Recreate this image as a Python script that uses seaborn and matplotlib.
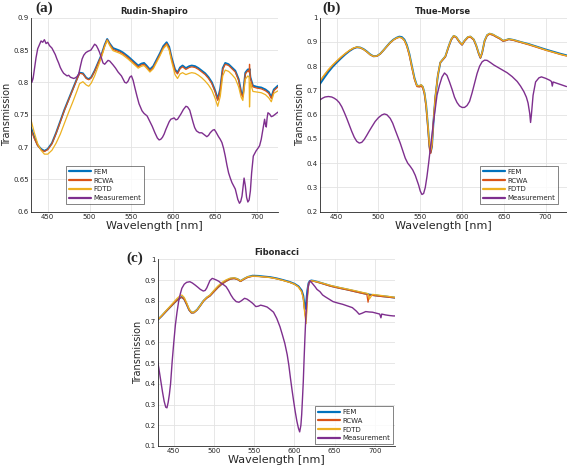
import numpy as np
import pandas as pd
import matplotlib
matplotlib.use("Agg")
import matplotlib.pyplot as plt
import seaborn as sns

# ---------------- data ----------------
series_names = ["FEM", "RCWA", "FDTD", "Measurement"]
series_colors = ["#0072BD", "#D95319", "#EDB120", "#7E2F8E"]

# (a) Rudin-Shapiro
wl_a_sim = [430, 434, 438, 442, 446, 450, 455, 460, 465, 470, 475, 480, 485, 488, 492, 496, 499, 502,
            506, 510, 514, 518, 521, 524, 528, 532, 536, 540, 546, 552, 558, 562, 565, 568, 572, 576,
            580, 584, 588, 592, 595, 598, 602, 605, 608, 611, 615, 619, 622, 626, 630, 634, 638, 642,
            646, 650, 653, 656, 659, 662, 666, 670, 674, 678, 681, 683, 686, 689, 690.5, 691, 692, 695,
            700, 705, 710, 714, 717, 720, 725]
fem_a = [0.730, 0.715, 0.703, 0.697, 0.694, 0.697, 0.706, 0.722, 0.740, 0.758, 0.774, 0.790, 0.806, 0.815,
         0.814, 0.807, 0.805, 0.808, 0.818, 0.830, 0.842, 0.858, 0.867, 0.860, 0.853, 0.851, 0.849, 0.846,
         0.840, 0.833, 0.826, 0.829, 0.830, 0.826, 0.820, 0.825, 0.835, 0.845, 0.856, 0.862, 0.855, 0.838,
         0.820, 0.815, 0.823, 0.826, 0.822, 0.825, 0.826, 0.825, 0.822, 0.818, 0.814, 0.808, 0.800, 0.787,
         0.774, 0.790, 0.822, 0.830, 0.828, 0.823, 0.818, 0.805, 0.785, 0.779, 0.815, 0.820, 0.818, 0.821,
         0.808, 0.795, 0.793, 0.792, 0.789, 0.785, 0.777, 0.789, 0.795]
rcwa_a = [0.727, 0.713, 0.702, 0.696, 0.693, 0.696, 0.705, 0.721, 0.739, 0.757, 0.773, 0.789, 0.805, 0.814,
          0.813, 0.806, 0.804, 0.807, 0.817, 0.829, 0.841, 0.857, 0.866, 0.859, 0.851, 0.849, 0.847, 0.844,
          0.838, 0.831, 0.824, 0.827, 0.828, 0.824, 0.818, 0.823, 0.833, 0.843, 0.854, 0.860, 0.853, 0.836,
          0.818, 0.813, 0.821, 0.824, 0.820, 0.823, 0.824, 0.823, 0.820, 0.816, 0.812, 0.806, 0.798, 0.785,
          0.772, 0.788, 0.820, 0.828, 0.826, 0.821, 0.816, 0.803, 0.783, 0.777, 0.813, 0.818, 0.816, 0.828,
          0.806, 0.793, 0.791, 0.790, 0.787, 0.783, 0.775, 0.787, 0.793]
fdtd_a = [0.742, 0.722, 0.705, 0.695, 0.689, 0.689, 0.695, 0.706, 0.720, 0.737, 0.754, 0.770, 0.787, 0.798,
          0.801, 0.796, 0.794, 0.799, 0.810, 0.824, 0.838, 0.855, 0.865, 0.857, 0.849, 0.847, 0.845, 0.842,
          0.836, 0.829, 0.822, 0.825, 0.826, 0.822, 0.816, 0.821, 0.831, 0.841, 0.852, 0.858, 0.850, 0.832,
          0.812, 0.806, 0.813, 0.815, 0.812, 0.814, 0.815, 0.814, 0.811, 0.807, 0.802, 0.796, 0.788, 0.775,
          0.763, 0.778, 0.810, 0.819, 0.817, 0.812, 0.806, 0.793, 0.777, 0.772, 0.805, 0.810, 0.808, 0.762,
          0.800, 0.786, 0.785, 0.784, 0.781, 0.776, 0.770, 0.783, 0.787]
wl_a_meas = [430, 431, 432.5, 434, 436, 438, 440, 442, 444, 446, 448, 450, 452, 455, 457, 459, 461, 463,
             465, 467, 469, 471, 473, 475, 477, 479, 481, 483, 485, 487, 489, 491, 493, 495.5, 498, 501.6,
             504, 506, 508, 510, 512, 514, 516, 518, 520, 522, 524, 526, 528, 531, 534, 538, 542, 544,
             546, 548, 550, 552, 554, 556.5, 559, 562.6, 565, 568.7, 571, 574.8, 578, 580.9, 583, 585,
             587, 589, 591, 593, 595, 597, 601, 603, 605, 607, 609, 612, 615, 617, 619.6, 621.5, 623.6,
             625.5, 627.6, 631, 634, 637, 640, 642, 644, 647, 649, 651, 654, 656, 658, 660, 662, 664,
             666, 668, 670, 672, 674, 675.5, 677, 679, 680.5, 682, 683.5, 684.5, 686, 687.5, 689, 690.5,
             692, 693.5, 695.5, 698.8, 701, 703, 705, 707, 709, 710, 711, 712, 713, 715, 717, 719, 721,
             723, 725]
meas_a = [0.815, 0.800, 0.806, 0.820, 0.838, 0.852, 0.858, 0.864, 0.862, 0.866, 0.860, 0.862, 0.857, 0.853,
          0.848, 0.843, 0.836, 0.830, 0.823, 0.818, 0.814, 0.812, 0.810, 0.811, 0.808, 0.807, 0.806, 0.807,
          0.809, 0.813, 0.825, 0.836, 0.842, 0.846, 0.848, 0.850, 0.855, 0.859, 0.857, 0.852, 0.846, 0.838,
          0.830, 0.828, 0.831, 0.834, 0.833, 0.830, 0.827, 0.822, 0.816, 0.810, 0.800, 0.799, 0.802, 0.808,
          0.810, 0.803, 0.792, 0.779, 0.767, 0.756, 0.752, 0.748, 0.742, 0.732, 0.722, 0.714, 0.711, 0.712,
          0.715, 0.720, 0.727, 0.733, 0.739, 0.743, 0.745, 0.742, 0.743, 0.747, 0.751, 0.758, 0.763, 0.762,
          0.757, 0.748, 0.738, 0.730, 0.725, 0.722, 0.722, 0.719, 0.716, 0.718, 0.722, 0.726, 0.727, 0.723,
          0.716, 0.712, 0.707, 0.698, 0.686, 0.672, 0.660, 0.652, 0.645, 0.640, 0.635, 0.627, 0.619, 0.613,
          0.616, 0.624, 0.640, 0.652, 0.640, 0.622, 0.615, 0.618, 0.632, 0.660, 0.686, 0.694, 0.698, 0.702,
          0.712, 0.728, 0.743, 0.735, 0.731, 0.745, 0.753, 0.751, 0.747, 0.748, 0.750, 0.752, 0.754]

# (b) Thue-Morse
wl_b_sim = [430, 435, 440, 445, 450, 455, 460, 465, 470, 474, 478, 482, 486, 490, 494, 498, 502, 506, 510,
            514, 518, 522, 525, 528, 531, 534, 537, 540, 543, 546, 549, 551, 553, 555, 557, 559, 561, 562.5,
            564, 566, 568, 571, 574, 577, 580, 584, 587, 590, 593, 597, 600, 603, 607, 610, 614, 617, 620,
            622, 624, 627, 630, 633, 637, 641, 645, 649, 652, 656, 662, 670, 680, 690, 700, 710, 718, 725]
fem_b = [0.727, 0.752, 0.776, 0.797, 0.815, 0.832, 0.848, 0.862, 0.873, 0.878, 0.877, 0.871, 0.861, 0.849,
         0.841, 0.842, 0.851, 0.866, 0.882, 0.898, 0.910, 0.918, 0.922, 0.920, 0.910, 0.887, 0.850, 0.800,
         0.752, 0.720, 0.718, 0.722, 0.715, 0.690, 0.640, 0.560, 0.470, 0.445, 0.470, 0.580, 0.670, 0.760,
         0.815, 0.828, 0.840, 0.882, 0.910, 0.925, 0.920, 0.900, 0.889, 0.905, 0.920, 0.922, 0.910, 0.885,
         0.852, 0.835, 0.855, 0.905, 0.928, 0.934, 0.930, 0.922, 0.915, 0.905, 0.907, 0.912, 0.908, 0.900,
         0.891, 0.880, 0.869, 0.859, 0.851, 0.845]
rcwa_b = [0.738, 0.762, 0.784, 0.803, 0.820, 0.836, 0.851, 0.864, 0.874, 0.878, 0.876, 0.869, 0.859, 0.847,
          0.840, 0.841, 0.850, 0.865, 0.881, 0.896, 0.908, 0.916, 0.919, 0.916, 0.905, 0.880, 0.842, 0.792,
          0.745, 0.716, 0.714, 0.718, 0.710, 0.684, 0.630, 0.548, 0.458, 0.440, 0.470, 0.585, 0.675, 0.763,
          0.815, 0.826, 0.838, 0.880, 0.908, 0.923, 0.918, 0.898, 0.887, 0.903, 0.918, 0.920, 0.908, 0.883,
          0.850, 0.833, 0.853, 0.903, 0.926, 0.932, 0.928, 0.920, 0.913, 0.903, 0.905, 0.910, 0.906, 0.898,
          0.888, 0.877, 0.866, 0.856, 0.848, 0.842]
fdtd_b = [0.740, 0.764, 0.786, 0.805, 0.822, 0.838, 0.852, 0.865, 0.875, 0.879, 0.877, 0.870, 0.860, 0.848,
          0.841, 0.842, 0.851, 0.866, 0.882, 0.897, 0.909, 0.917, 0.920, 0.917, 0.907, 0.884, 0.848, 0.798,
          0.750, 0.720, 0.719, 0.724, 0.716, 0.692, 0.642, 0.565, 0.478, 0.455, 0.478, 0.585, 0.672, 0.762,
          0.816, 0.829, 0.841, 0.883, 0.911, 0.926, 0.921, 0.901, 0.890, 0.906, 0.921, 0.923, 0.911, 0.886,
          0.853, 0.837, 0.857, 0.906, 0.929, 0.935, 0.931, 0.923, 0.916, 0.906, 0.908, 0.912, 0.908, 0.900,
          0.890, 0.879, 0.867, 0.857, 0.849, 0.843]
wl_b_meas = [430, 433, 436, 440, 444, 447, 450, 453, 456, 459, 462, 465, 468, 471, 474, 477, 480, 483, 486,
             489, 492, 496, 500, 504, 507, 510, 514, 517, 520, 523, 526, 529, 532, 535, 538, 541, 544, 548,
             550, 552, 554, 556, 558, 560, 562, 564, 566, 568, 570, 573, 576, 579, 582, 585, 588, 591, 594,
             597, 600, 603, 606, 609, 612, 615, 618, 621, 624, 627, 630, 634, 638, 642, 648, 654, 660, 666,
             670, 674, 677, 679, 681, 682, 683, 685, 688, 692, 695, 700, 705, 707, 708, 709, 714, 720, 725]
meas_b = [0.661, 0.668, 0.673, 0.675, 0.673, 0.668, 0.661, 0.650, 0.633, 0.610, 0.585, 0.558, 0.531, 0.507,
          0.490, 0.483, 0.486, 0.498, 0.515, 0.533, 0.550, 0.572, 0.588, 0.599, 0.603, 0.600, 0.585, 0.565,
          0.537, 0.510, 0.483, 0.452, 0.421, 0.400, 0.387, 0.372, 0.350, 0.310, 0.285, 0.271, 0.275, 0.300,
          0.345, 0.400, 0.460, 0.517, 0.575, 0.626, 0.680, 0.722, 0.755, 0.772, 0.762, 0.735, 0.705, 0.672,
          0.650, 0.636, 0.630, 0.630, 0.638, 0.655, 0.690, 0.730, 0.770, 0.800, 0.818, 0.825, 0.824, 0.815,
          0.805, 0.797, 0.785, 0.773, 0.757, 0.737, 0.718, 0.695, 0.672, 0.648, 0.605, 0.568, 0.600, 0.680,
          0.735, 0.752, 0.756, 0.750, 0.742, 0.737, 0.718, 0.735, 0.729, 0.722, 0.716]

# (c) Fibonacci
wl_c_sim = [430, 435, 440, 445, 450, 454, 458, 460, 463, 466, 469, 472, 475, 479, 483, 487, 491, 495, 500,
            505, 510, 515, 520, 525, 529, 533, 537, 542, 548, 555, 562, 570, 578, 586, 594, 600, 605, 609,
            611, 613, 614.5, 616, 617.5, 619, 621, 624, 628, 635, 645, 655, 665, 675, 685, 690, 691.5, 693,
            697, 705, 715, 725]
fem_c = [0.708, 0.727, 0.748, 0.768, 0.788, 0.803, 0.815, 0.818, 0.808, 0.784, 0.757, 0.743, 0.744, 0.757,
         0.778, 0.800, 0.815, 0.825, 0.846, 0.866, 0.883, 0.896, 0.906, 0.909, 0.905, 0.895, 0.905, 0.915,
         0.921, 0.920, 0.917, 0.914, 0.908, 0.900, 0.891, 0.882, 0.870, 0.850, 0.825, 0.760, 0.790, 0.850,
         0.885, 0.895, 0.898, 0.896, 0.892, 0.884, 0.872, 0.863, 0.855, 0.846, 0.837, 0.833, 0.832, 0.830,
         0.828, 0.824, 0.820, 0.815]
rcwa_c = [0.707, 0.726, 0.747, 0.767, 0.787, 0.802, 0.814, 0.817, 0.806, 0.782, 0.755, 0.741, 0.742, 0.755,
          0.776, 0.798, 0.813, 0.823, 0.844, 0.864, 0.881, 0.894, 0.904, 0.907, 0.903, 0.893, 0.903, 0.913,
          0.918, 0.917, 0.915, 0.912, 0.906, 0.898, 0.889, 0.880, 0.867, 0.845, 0.815, 0.740, 0.710, 0.820,
          0.880, 0.893, 0.896, 0.894, 0.890, 0.882, 0.870, 0.861, 0.853, 0.844, 0.835, 0.831, 0.793, 0.828,
          0.826, 0.822, 0.818, 0.814]
fdtd_c = [0.709, 0.729, 0.751, 0.772, 0.794, 0.811, 0.825, 0.828, 0.816, 0.790, 0.761, 0.745, 0.745, 0.757,
          0.778, 0.801, 0.817, 0.828, 0.851, 0.872, 0.889, 0.901, 0.909, 0.911, 0.906, 0.896, 0.906, 0.916,
          0.919, 0.918, 0.915, 0.912, 0.906, 0.898, 0.889, 0.880, 0.866, 0.842, 0.810, 0.730, 0.690, 0.800,
          0.878, 0.892, 0.896, 0.895, 0.892, 0.885, 0.874, 0.865, 0.857, 0.849, 0.840, 0.836, 0.834, 0.808,
          0.831, 0.827, 0.822, 0.817]
wl_c_meas = [430, 432, 434, 436, 438, 440, 441.5, 443, 444.5, 446, 448, 450, 452, 454, 456, 458, 460, 463,
             466, 470, 473, 476.5, 480, 483, 486.7, 489, 491, 493, 495, 497.8, 500, 503, 506, 509, 512, 515,
             518, 521, 524, 527.6, 531, 534, 538, 541, 544, 548, 552, 555, 558, 562, 566, 570, 574, 578,
             582, 585, 588, 591, 593, 595, 597, 599, 601, 603, 605, 606.5, 608, 609, 610, 611, 612, 613,
             614, 615, 616.5, 618, 619.5, 622, 625.6, 628, 631.7, 635, 638, 643, 648, 654, 660, 666, 672,
             677, 680.5, 684, 688.6, 693, 697, 702, 706, 707.5, 708.5, 713, 718, 723, 725]
meas_c = [0.508, 0.460, 0.410, 0.360, 0.316, 0.287, 0.284, 0.310, 0.348, 0.400, 0.508, 0.600, 0.684, 0.745,
          0.796, 0.832, 0.860, 0.880, 0.889, 0.892, 0.886, 0.876, 0.865, 0.855, 0.847, 0.850, 0.862, 0.880,
          0.898, 0.908, 0.905, 0.900, 0.894, 0.884, 0.877, 0.868, 0.850, 0.828, 0.810, 0.796, 0.793, 0.800,
          0.812, 0.808, 0.800, 0.788, 0.772, 0.774, 0.779, 0.775, 0.770, 0.758, 0.745, 0.715, 0.675, 0.636,
          0.595, 0.540, 0.490, 0.428, 0.370, 0.316, 0.265, 0.220, 0.185, 0.168, 0.200, 0.252, 0.330, 0.412,
          0.520, 0.620, 0.710, 0.780, 0.850, 0.885, 0.895, 0.885, 0.868, 0.855, 0.844, 0.828, 0.820, 0.808,
          0.796, 0.789, 0.783, 0.775, 0.767, 0.750, 0.735, 0.740, 0.748, 0.746, 0.745, 0.740, 0.736, 0.718,
          0.736, 0.732, 0.729, 0.727, 0.727]

titles = ["Rudin-Shapiro", "Thue-Morse", "Fibonacci"]
panel_tags = ["(a)", "(b)", "(c)"]
yticks_a = [0.6, 0.65, 0.7, 0.75, 0.8, 0.85, 0.9]
ytick_labels_a = ["0.6", "0.65", "0.7", "0.75", "0.8", "0.85", "0.9"]
yticks_b = [0.2, 0.3, 0.4, 0.5, 0.6, 0.7, 0.8, 0.9, 1.0]
ytick_labels_b = ["0.2", "0.3", "0.4", "0.5", "0.6", "0.7", "0.8", "0.9", "1"]
yticks_c = [0.1, 0.2, 0.3, 0.4, 0.5, 0.6, 0.7, 0.8, 0.9, 1.0]
ytick_labels_c = ["0.1", "0.2", "0.3", "0.4", "0.5", "0.6", "0.7", "0.8", "0.9", "1"]
xticks = [450, 500, 550, 600, 650, 700]

# ---------------- style ----------------
sns.set_theme(style="whitegrid")
plt.rcParams["font.family"] = ["DejaVu Sans"]

W, H = 567, 470
fig = plt.figure(figsize=(W / 100, H / 100), dpi=100)


def px_axes(left, top, right, bottom):
    return fig.add_axes([left / W, 1 - bottom / H, (right - left) / W, (bottom - top) / H])


ax_a = px_axes(31, 17.7, 278, 211.7)
ax_b = px_axes(320, 17.7, 566.5, 211.7)
ax_c = px_axes(157.7, 259.3, 395, 446)

panels = [
    (ax_a, wl_a_sim, [fem_a, rcwa_a, fdtd_a], wl_a_meas, meas_a, (0.6, 0.9), yticks_a, ytick_labels_a,
     dict(loc="lower left", bbox_to_anchor=(0.142, 0.04))),
    (ax_b, wl_b_sim, [fem_b, rcwa_b, fdtd_b], wl_b_meas, meas_b, (0.2, 1.0), yticks_b, ytick_labels_b,
     dict(loc="lower right", bbox_to_anchor=(0.966, 0.04))),
    (ax_c, wl_c_sim, [fem_c, rcwa_c, fdtd_c], wl_c_meas, meas_c, (0.1, 1.0), yticks_c, ytick_labels_c,
     dict(loc="lower right", bbox_to_anchor=(0.99, 0.01))),
]

lws = [1.4, 0.9, 0.9, 1.0]
for i, (ax, wl_sim, sims, wl_meas, meas, ylim, yt, ytl, legkw) in enumerate(panels):
    frames = []
    for name, vals in zip(series_names[:3], sims):
        frames.append(pd.DataFrame({"wl": wl_sim, "T": vals, "series": name}))
    frames.append(pd.DataFrame({"wl": wl_meas, "T": meas, "series": "Measurement"}))
    df = pd.concat(frames, ignore_index=True)
    for name, col, lw in zip(series_names, series_colors, lws):
        sub = df[df["series"] == name]
        sns.lineplot(data=sub, x="wl", y="T", ax=ax, color=col, linewidth=lw, label=name,
                     estimator=None, sort=False)
    ax.set_xlim(430, 725)
    ax.set_ylim(*ylim)
    ax.set_xticks(xticks)
    ax.set_yticks(yt)
    ax.set_yticklabels(ytl)
    ax.tick_params(axis="both", labelsize=5, colors="#262626", length=2, width=0.5,
                   direction="in", pad=1.5)
    ax.grid(True, color="#e3e3e3", linewidth=0.6)
    ax.set_facecolor("white")
    for s in ["top", "right"]:
        ax.spines[s].set_visible(False)
    for s in ["left", "bottom"]:
        ax.spines[s].set_color("#262626")
        ax.spines[s].set_linewidth(0.6)
    ax.set_xlabel("Wavelength [nm]", fontsize=8, color="#262626", labelpad=1)
    ax.set_ylabel("Transmission", fontsize=7, color="#262626", labelpad=1)
    ax.set_title(titles[i], fontsize=6, fontweight="bold", color="#262626", pad=3)
    leg = ax.legend(fontsize=5, frameon=True, fancybox=False, handlelength=3.2, handletextpad=0.3,
                    borderpad=0.4, labelspacing=0.4, borderaxespad=0, **legkw)
    leg.get_frame().set_edgecolor("#262626")
    leg.get_frame().set_linewidth(0.5)
    for line in leg.get_lines():
        line.set_linewidth(1.6)

tag_font = dict(fontsize=11, fontweight="bold", family=["Liberation Serif", "DejaVu Serif"], va="center")
fig.text(35 / W, 1 - 8 / H, panel_tags[0], **tag_font)
fig.text(322 / W, 1 - 8 / H, panel_tags[1], **tag_font)
fig.text(126 / W, 1 - 258 / H, panel_tags[2], **tag_font)

fig.savefig("out.png", dpi=100)
